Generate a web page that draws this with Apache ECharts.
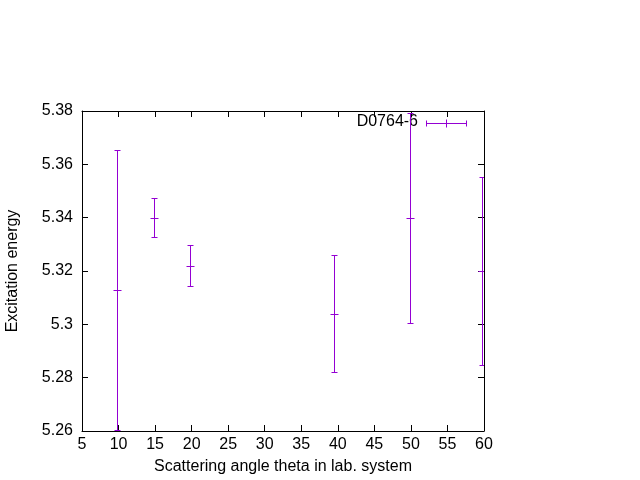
<!DOCTYPE html>
<html>
<head>
<meta charset="utf-8">
<script src="https://cdn.jsdelivr.net/npm/echarts@6/dist/echarts.min.js"></script>
<style>html,body{margin:0;padding:0;background:#fff;}#c{width:640px;height:480px;}</style>
</head>
<body>
<div id="c"></div>
<script>
var seriesName = 'D0764-6';
var angles = [9.8, 14.9, 19.9, 39.6, 49.9, 59.8];
var energies = [5.3126, 5.3398, 5.3218, 5.3038, 5.3398, 5.3199];
var errors = [0.0525, 0.0074, 0.0077, 0.022, 0.0394, 0.0352];
var xTitle = 'Scattering angle theta in lab. system';
var yTitle = 'Excitation energy';

var COLOR = '#9400d3';
var FONT = 'Liberation Sans, Arial, sans-serif';
var FS = 16;

var data = angles.map(function (a, i) {
  return [a, energies[i], energies[i] - errors[i], energies[i] + errors[i]];
});

var chart = echarts.init(document.getElementById('c'), null, {renderer: 'canvas'});

var baseAxis = {
  axisLine: {show: true, lineStyle: {color: '#000', width: 1}},
  axisTick: {show: true, inside: true, length: 6, lineStyle: {color: '#000'}},
  splitLine: {show: false},
  axisLabel: {color: '#000', fontFamily: FONT, fontSize: FS}
};

function mk(extra) { return Object.assign({}, JSON.parse(JSON.stringify(baseAxis)), extra); }

function px(v) { return Math.round(v - 0.5) + 0.5; }

chart.setOption({
  animation: false,
  grid: {left: 82, right: 156, top: 111, bottom: 49, containLabel: false, outerBoundsMode: 'none'},
  xAxis: [
    mk({type: 'value', min: 5, max: 60, interval: 5, position: 'bottom',
      axisLabel: {color: '#000', fontFamily: FONT, fontSize: FS, margin: 6},
      name: xTitle, nameLocation: 'middle', nameGap: 28,
      nameTextStyle: {color: '#000', fontFamily: FONT, fontSize: FS}}),
    mk({type: 'value', min: 5, max: 60, interval: 5, position: 'top',
      axisLabel: {show: false}})
  ],
  yAxis: [
    mk({type: 'value', min: 5.26, max: 5.38, interval: 0.02, position: 'left',
      axisLabel: {color: '#000', fontFamily: FONT, fontSize: FS, margin: 9,
        formatter: function (v) { return String(parseFloat(v.toFixed(4))); }},
      name: yTitle, nameLocation: 'middle', nameGap: 61, nameRotate: 90,
      nameTextStyle: {color: '#000', fontFamily: FONT, fontSize: FS}}),
    mk({type: 'value', min: 5.26, max: 5.38, interval: 0.02, position: 'right',
      axisLabel: {show: false}})
  ],
  series: [{
    name: seriesName,
    type: 'custom',
    clip: true,
    data: data,
    encode: {x: 0, y: [1, 2, 3]},
    renderItem: function (params, api) {
      var x = api.value(0);
      var c = api.coord([x, api.value(1)]);
      var lo = api.coord([x, api.value(2)]);
      var hi = api.coord([x, api.value(3)]);
      var cx = px(c[0]), cy = px(c[1]), ly = px(lo[1]), hy = px(hi[1]);
      var cap = 3, mark = 4;
      var st = {stroke: COLOR, lineWidth: 1};
      return {
        type: 'group',
        children: [
          {type: 'line', shape: {x1: cx, y1: ly, x2: cx, y2: hy}, style: st},
          {type: 'line', shape: {x1: cx - cap, y1: ly, x2: cx + cap, y2: ly}, style: st},
          {type: 'line', shape: {x1: cx - cap, y1: hy, x2: cx + cap, y2: hy}, style: st},
          {type: 'line', shape: {x1: cx - mark, y1: cy, x2: cx + mark, y2: cy}, style: st}
        ]
      };
    }
  }],
  graphic: [
    {type: 'text', x: 418, y: 122,
      style: {text: seriesName, fill: '#000', font: FS + 'px ' + FONT, textAlign: 'right', textVerticalAlign: 'middle'}},
    {type: 'group', x: 426.5, y: 123.5, children: [
      {type: 'line', shape: {x1: 0, y1: 0, x2: 40, y2: 0}, style: {stroke: COLOR, lineWidth: 1}},
      {type: 'line', shape: {x1: 0, y1: -3, x2: 0, y2: 3}, style: {stroke: COLOR, lineWidth: 1}},
      {type: 'line', shape: {x1: 40, y1: -3, x2: 40, y2: 3}, style: {stroke: COLOR, lineWidth: 1}},
      {type: 'line', shape: {x1: 20, y1: -4, x2: 20, y2: 4}, style: {stroke: COLOR, lineWidth: 1}}
    ]}
  ]
});
</script>
</body>
</html>
